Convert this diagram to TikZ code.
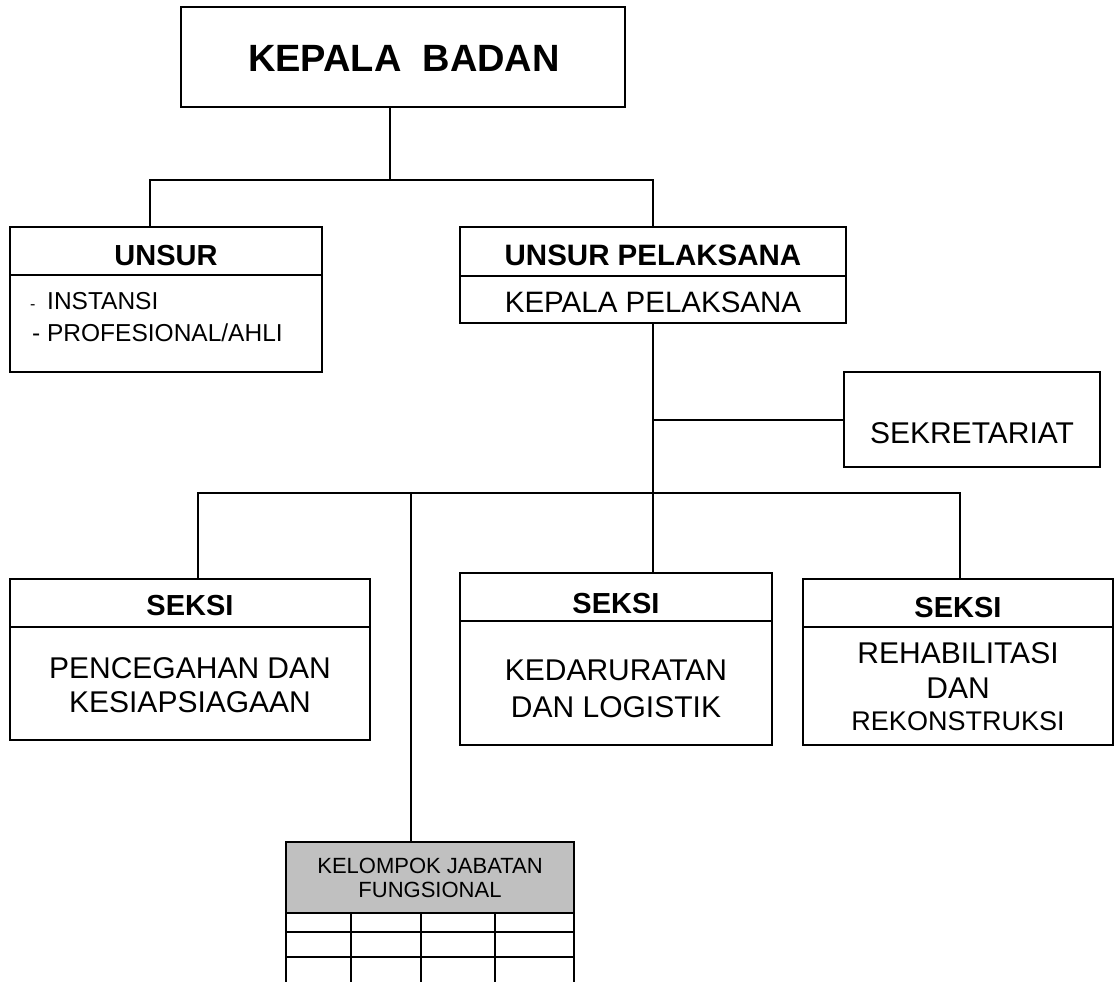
\documentclass[tikz,border=0pt]{standalone}
\usepackage{fontspec}
\setmainfont{Liberation Sans}
\definecolor{kjfgray}{RGB}{192,192,192}
\tikzset{
  box/.style={draw, line width=1.8pt, rectangle, inner sep=0pt, outer sep=0pt, anchor=north west},
  conn/.style={line width=1.8pt},
  txt/.style={inner sep=0pt, anchor=base, align=center},
  ltxt/.style={inner sep=0pt, anchor=base west},
}
\newcommand{\fsz}[1]{\fontsize{#1}{#1}\selectfont}
\begin{document}
\begin{tikzpicture}[x=1pt,y=-1pt]
\useasboundingbox (0,0) rectangle (1116,982);
\fill[white] (0,0) rectangle (1116,982);

% boxes
\node[box, minimum width=444pt, minimum height=100pt] (kb) at (181,7) {};
\node[box, minimum width=312pt, minimum height=145pt] (unsur) at (10,227) {};
\node[box, minimum width=386pt, minimum height=96pt] (pel) at (460,227) {};
\node[box, minimum width=256pt, minimum height=95pt] (sek) at (844,372) {};
\node[box, minimum width=360pt, minimum height=161pt] (s1) at (10,579) {};
\node[box, minimum width=312pt, minimum height=172pt] (s2) at (460,573) {};
\node[box, minimum width=310pt, minimum height=166pt] (s3) at (803,579) {};
\node[box, fill=kjfgray, minimum width=288pt, minimum height=71pt] (kjf) at (286,842) {};

% dividers
\draw[conn] (10,275) -- (322,275);
\draw[conn] (460,276) -- (846,276);
\draw[conn] (10,627) -- (370,627);
\draw[conn] (460,621) -- (772,621);
\draw[conn] (803,627) -- (1113,627);

% table under KELOMPOK JABATAN FUNGSIONAL
\draw[conn] (286,932) -- (574,932);
\draw[conn] (286,957) -- (574,957);
\draw[conn] (286,913) -- (286,984);
\draw[conn] (574,913) -- (574,984);
\draw[conn] (351,913) -- (351,984);
\draw[conn] (421,913) -- (421,984);
\draw[conn] (495,913) -- (495,984);

% connector coordinates
\coordinate (j1) at (390,180);
\coordinate (jl) at (150,180);
\coordinate (jr) at (653,180);
\coordinate (hl) at (198,493);
\coordinate (hr) at (960,493);
\coordinate (hk) at (411,493);
\coordinate (js) at (653,420);

% connectors
\draw[conn] (kb.south -| j1) -- (j1);
\draw[conn] (unsur.north -| jl) -- (jl) -- (jr) -- (pel.north -| jr);
\draw[conn] (pel.south -| jr) -- (s2.north -| jr);
\draw[conn] (js) -- (sek.west |- js);
\draw[conn] (s1.north -| hl) -- (hl) -- (hr) -- (s3.north -| hr);
\draw[conn] (hk) -- (kjf.north -| hk);

% texts
\node[txt] (tkb) at (404,71) {\fsz{38}\bfseries KEPALA\ \ BADAN};
\node[txt] (tun) at (166,265) {\fsz{29}\bfseries UNSUR};
\node[ltxt] (td1) at (30,309) {\fsz{16}-};
\node[ltxt] (tin) at (47,309) {\fsz{24.5}INSTANSI};
\node[ltxt] (tpr) at (32,341) {\fsz{24.5}- PROFESIONAL/AHLI};
\node[txt] (tup) at (653,265) {\fsz{29.5}\bfseries UNSUR PELAKSANA};
\node[txt] (tkp) at (653,312) {\fsz{29.5}KEPALA PELAKSANA};
\node[txt] (tsk) at (972,443) {\fsz{30}SEKRETARIAT};

\node[txt] (ts1) at (190,615) {\fsz{29}\bfseries SEKSI};
\node[txt] (ts1a) at (190,678) {\fsz{30}PENCEGAHAN DAN};
\node[txt] (ts1b) at (190,712) {\fsz{30}KESIAPSIAGAAN};

\node[txt] (ts2) at (616,613) {\fsz{29}\bfseries SEKSI};
\node[txt] (ts2a) at (616,680) {\fsz{30}KEDARURATAN};
\node[txt] (ts2b) at (616,717) {\fsz{30}DAN LOGISTIK};

\node[txt] (ts3) at (958,617) {\fsz{29}\bfseries SEKSI};
\node[txt] (ts3a) at (958,663) {\fsz{30}REHABILITASI};
\node[txt] (ts3b) at (958,698) {\fsz{30}DAN};
\node[txt] (ts3c) at (958,730) {\fsz{27}REKONSTRUKSI};

\node[txt] (tk1) at (430,873) {\fsz{22}KELOMPOK JABATAN};
\node[txt] (tk2) at (430,897) {\fsz{22}FUNGSIONAL};
\end{tikzpicture}
\end{document}
